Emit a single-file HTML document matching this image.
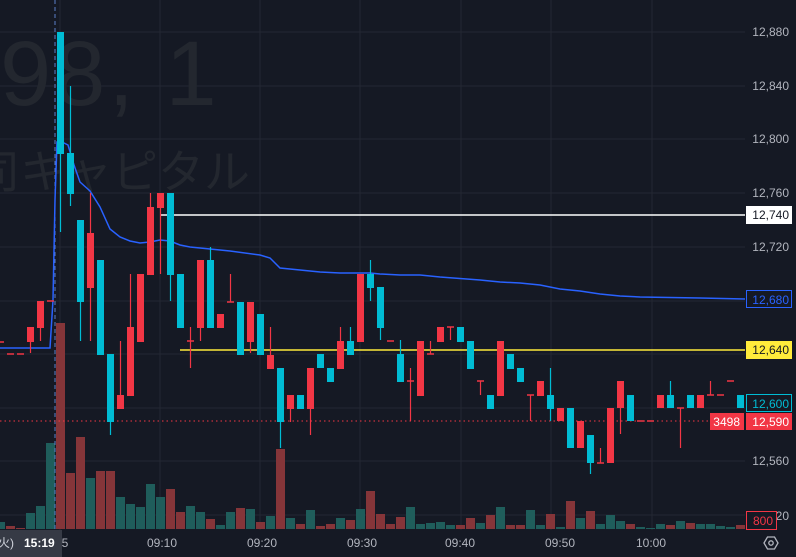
<!DOCTYPE html>
<html><head><meta charset="utf-8">
<style>
html,body{margin:0;padding:0;background:#151924;}
svg{display:block;font-family:"Liberation Sans","Noto Sans CJK JP",sans-serif;}
</style></head>
<body>
<svg id="s" width="796" height="557" viewBox="0 0 796 557" xmlns="http://www.w3.org/2000/svg">
<rect width="796" height="557" fill="#151924"/>
<g stroke="#232733" stroke-width="1">
<line x1="0" y1="32" x2="745" y2="32"/><line x1="0" y1="86" x2="745" y2="86"/>
<line x1="0" y1="139" x2="745" y2="139"/><line x1="0" y1="193" x2="745" y2="193"/>
<line x1="0" y1="247" x2="745" y2="247"/><line x1="0" y1="301" x2="745" y2="301"/>
<line x1="0" y1="354" x2="745" y2="354"/><line x1="0" y1="408" x2="745" y2="408"/>
<line x1="0" y1="461" x2="745" y2="461"/><line x1="0" y1="515" x2="745" y2="515"/>
<line x1="60" y1="0" x2="60" y2="530"/><line x1="160" y1="0" x2="160" y2="530"/>
<line x1="260" y1="0" x2="260" y2="530"/><line x1="360" y1="0" x2="360" y2="530"/>
<line x1="461" y1="0" x2="461" y2="530"/><line x1="551" y1="0" x2="551" y2="530"/>
<line x1="652" y1="0" x2="652" y2="530"/>
</g>
<text x="0" y="105" font-size="92" fill="#23272f" letter-spacing="3">98, 1</text>
<text x="-26" y="188" font-size="46" fill="#23272f">司キャピタル</text>
<g id="vol"></g>
<line x1="55" y1="0" x2="55" y2="530" stroke="#5a7fc7" stroke-width="1" stroke-dasharray="4,3"/>
<polyline fill="none" stroke="#2962ff" stroke-width="1.5" points="0,348 50,348 53,300 55,200 57,142 62,142 68,145 74,165 80,182 90,191 100,207 110,229 120,237 130,241 140,243 150,242 160,240 170,241 180,245 190,247 200,248 210,249 230,251 260,255 270,258 280,268 300,270 320,272 340,273 370,273 380,274 400,275 420,275 440,277 480,280 500,282 520,283 540,285 560,289 580,291 600,294 620,296 640,297 700,298 745,299"/>
<line x1="160" y1="215" x2="745" y2="215" stroke="#ffffff" stroke-width="1.5"/>
<line x1="180" y1="350" x2="745" y2="350" stroke="#ffeb3b" stroke-width="1.5"/>
<line x1="0" y1="421" x2="745" y2="421" stroke="#f23645" stroke-width="1" stroke-dasharray="1.5,3"/>
<g id="cdl"></g>
<g font-size="12" fill="#b2b5be" text-anchor="end">
<text x="789" y="36">12,880</text><text x="789" y="90">12,840</text>
<text x="789" y="143">12,800</text><text x="789" y="197">12,760</text>
<text x="789" y="251">12,720</text><text x="789" y="465">12,560</text>
<text x="789" y="520">12,520</text>
</g>
<rect x="746" y="206" width="46" height="18" fill="#ffffff"/><text x="789" y="219" font-size="12" fill="#131722" text-anchor="end">12,740</text>
<rect x="746.5" y="290.5" width="45" height="17" fill="#151924" stroke="#2962ff"/><text x="789" y="304" font-size="12" fill="#2962ff" text-anchor="end">12,680</text>
<rect x="746" y="341" width="46" height="18" fill="#ffeb3b"/><text x="789" y="354" font-size="12" fill="#131722" text-anchor="end">12,640</text>
<rect x="746.5" y="394.5" width="45" height="17" fill="#151924" stroke="#00bcd4"/><text x="789" y="408" font-size="12" fill="#00bcd4" text-anchor="end">12,600</text>
<rect x="746" y="413" width="46" height="17" fill="#f23645"/><text x="789" y="426" font-size="12" fill="#fff" text-anchor="end">12,590</text>
<rect x="710" y="413" width="34" height="17" fill="#f23645"/><text x="740" y="426" font-size="12" fill="#fff" text-anchor="end">3498</text>
<rect x="746.5" y="511.5" width="30" height="18" fill="#151924" stroke="#f23645"/><text x="773" y="525" font-size="12" fill="#f23645" text-anchor="end">800</text>
<g font-size="12" fill="#b2b5be" text-anchor="middle">
<text x="162" y="547">09:10</text><text x="262" y="547">09:20</text><text x="362" y="547">09:30</text>
<text x="460" y="547">09:40</text><text x="560" y="547">09:50</text><text x="651" y="547">10:00</text>
<text x="65" y="547">5</text>
</g>
<rect x="0" y="530" width="62" height="27" fill="#363a45"/>
<text x="-2" y="547" font-size="12" fill="#d1d4dc">火)</text>
<text x="24" y="547" font-size="12" fill="#ffffff" font-weight="bold">15:19</text>
<g transform="translate(771,543)" fill="none" stroke="#b2b5be" stroke-width="1.3">
<polygon points="-7,0 -3.5,-6 3.5,-6 7,0 3.5,6 -3.5,6"/><circle r="2.2"/>
</g>
</svg>
<script>
(function(){
var NS="http://www.w3.org/2000/svg";
function el(p,t,a){var e=document.createElementNS(NS,t);for(var k in a)e.setAttribute(k,a[k]);p.appendChild(e);return e;}
var C="#00bcd4",R="#f23645";
var cd=[[-6,'d',342],[-5,'d',354],[-4,'d',354],[-3,'r',327,342,327,353],[-2,'r',301,328,301,341],[-1,'d',301],
[0,'c',32,154,32,232],[1,'c',153,194,86,206],[2,'c',220,302,220,341],[3,'r',233,288,193,341],[4,'c',260,355],
[5,'c',354,422,354,435],[6,'r',395,409,341,409],[7,'r',327,396,274,396],[8,'r',274,342],[9,'r',207,275,193,275],
[10,'r',193,208,193,274],[11,'c',193,275,193,301],[12,'c',274,328],[13,'d',341,327,368],[14,'r',260,328,260,341],
[15,'c',260,328,247,328],[16,'r',314,328],[17,'d',302,274,302],[18,'c',302,355],[19,'r',302,342,302,353],
[20,'c',314,355],[21,'r',355,369,327,369],[22,'c',368,422,368,448],[23,'r',395,409,395,422],[24,'c',395,409],
[25,'r',368,409,368,435],[26,'c',354,368],[27,'c',368,382],[28,'r',341,369,327,369],[29,'c',341,355,327,355],
[30,'r',274,342],[31,'c',274,288,260,301],[32,'c',287,328,287,340],[33,'d',341],[34,'c',354,382,340,382],
[35,'d',381,368,421],[36,'r',341,396],[37,'d',354,341,354],[38,'r',327,342],[39,'d',327,327,340],[40,'c',327,342],
[41,'c',341,369],[42,'d',381,381,395],[43,'c',395,409],[44,'r',341,396],[45,'c',354,369],[46,'c',368,382],
[47,'d',395,395,421],[48,'r',381,396],[49,'c',395,409,368,421],[50,'r',408,421],[51,'c',408,448],[52,'r',421,448],
[53,'c',435,463,435,474],[54,'d',463,448,463],[55,'r',408,463],[56,'r',381,408,381,434],[57,'c',395,421],
[58,'d',421],[59,'d',421],[60,'r',395,408],[61,'c',395,408,381,408],[62,'d',408,408,448],[63,'c',395,408],
[64,'r',395,408],[65,'d',395,381,395],[66,'d',395],[67,'d',381],[68,'c',395,408]];
var g=document.getElementById('cdl');
cd.forEach(function(d){var x=60.5+10*d[0];
 if(d[1]=='d'){el(g,'rect',{x:x-3.5,y:d[2]-0.75,width:Math.min(7,745-(x-3.5)),height:1.5,fill:R});
  if(d.length>3)el(g,'rect',{x:x-0.6,y:d[3],width:1.2,height:d[4]-d[3],fill:R});return;}
 var col=d[1]=='c'?C:R;
 if(d.length>4)el(g,'rect',{x:x-0.6,y:d[4],width:1.2,height:d[5]-d[4],fill:col});
 el(g,'rect',{x:x-3.5,y:d[2],width:Math.min(7,745-(x-3.5)),height:d[3]-d[2],fill:col});
});
var vol={"-6":"t522","-5":"r526","-4":"r528","-3":"t513","-2":"t506","-1":"t443"};
var vs="r323 r473 r437 t478 r471 r471 t497 t504 t507 t484 t497 r489 r512 t506 t512 r519 t525 t512 r508 t509 r522 t516 r449 t518 r524 t510 r526 r524 t518 r520 t509 r491 r514 r524 r517 t507 t524 t523 t522 t525 r525 r518 t523 r515 t507 r525 r525 t510 t525 r514 t527 r501 t518 r511 t524 t515 t521 r524 t527 t528 t524 r525 t521 r523 t524 t524 t526 t527 r525".split(" ");
vs.forEach(function(v,i){vol[i]=v;});
var vg=document.getElementById('vol');
for(var i=-6;i<=68;i++){var v=vol[i];var x=60.5+10*i;var yt=+v.slice(1);
 var x0=Math.max(0,x-4.5),x1=Math.min(745,x+4.5);
 el(vg,'rect',{x:x0,y:yt,width:x1-x0,height:529-yt,fill:v[0]=='r'?'#853539':'#1f5d5b'});}
})();
</script>
</body></html>
